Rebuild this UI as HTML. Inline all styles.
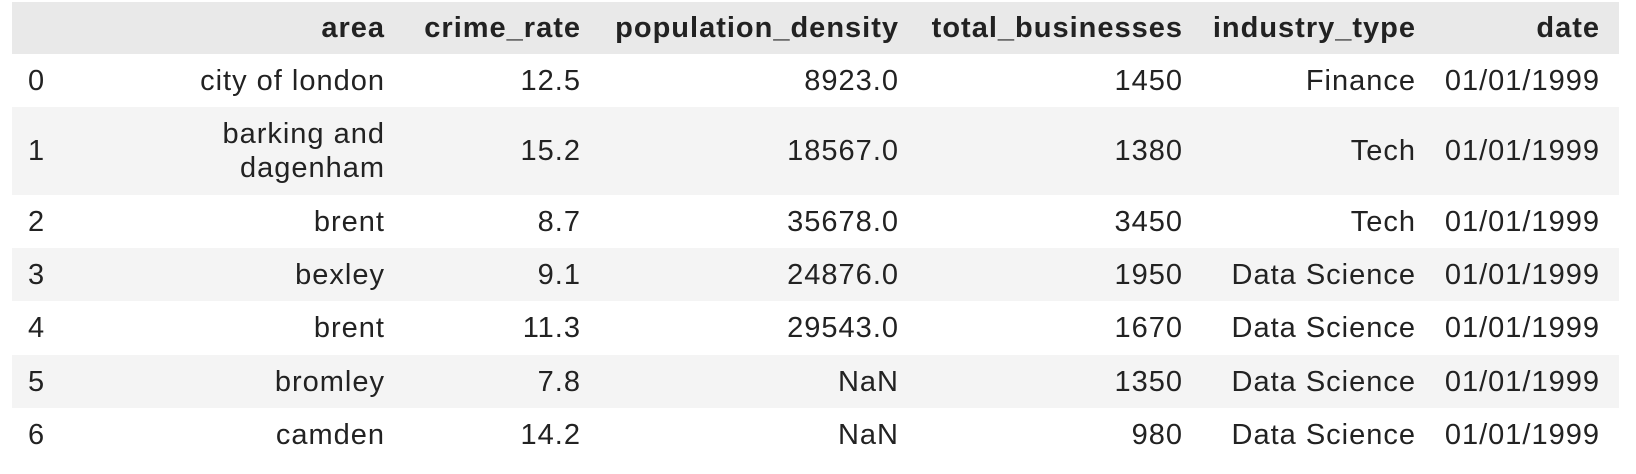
<!DOCTYPE html>
<html><head><meta charset="utf-8"><style>
body{margin:0;width:1636px;height:474px;background:#fff;overflow:hidden;font-family:"Liberation Sans",sans-serif;font-size:29px;color:#222;letter-spacing:1px}
.row{position:absolute;left:12px;width:1607px}
.c{position:absolute;white-space:nowrap;text-align:right;line-height:34px}
.hdr{font-weight:bold}
</style></head><body>
<div id="t"></div>
<script>
const cols=["area","crime_rate","population_density","total_businesses","industry_type","date"];
const rights=[385,581,899,1183,1416,1600];
const areas=["city of london","barking and\ndagenham","brent","bexley","brent","bromley","camden"];
const crime=["12.5","15.2","8.7","9.1","11.3","7.8","14.2"];
const pop=["8923.0","18567.0","35678.0","24876.0","29543.0","NaN","NaN"];
const biz=["1450","1380","3450","1950","1670","1350","980"];
const ind=["Finance","Tech","Tech","Data Science","Data Science","Data Science","Data Science"];
const dates=["01/01/1999","01/01/1999","01/01/1999","01/01/1999","01/01/1999","01/01/1999","01/01/1999"];
const tops=[2,54,107,195,248,301,355,408,461];
const t=document.getElementById('t');
function cell(row,txt,right,h,bold,name){
  const d=document.createElement('div');d.className='c'+(bold?' hdr':'');
  
  
  const lines=txt.split('\n');
  d.innerHTML=lines.join('<br>');
  d.style.right=(1619-right)+'px';
  d.style.top=((h-lines.length*34)/2)+'px';
  row.appendChild(d);
}
for(let r=0;r<8;r++){
  const row=document.createElement('div');row.className='row';
  
  
  const h=tops[r+1]-tops[r];
  row.style.top=tops[r]+'px';row.style.height=h+'px';
  row.style.background=r==0?'#e9e9e9':(r%2==0?'#f4f4f4':'#fff');
  t.appendChild(row);
  if(r==0){cols.forEach((c,i)=>cell(row,c,rights[i],h,true,'header-'+c.replace(/_/g,'-')));}
  else{
    const i=r-1;
    const idx=document.createElement('div');idx.className='c';
    
    
    idx.textContent=i;idx.style.left='16px';idx.style.textAlign='left';idx.style.top=((h-34)/2)+'px';row.appendChild(idx);
    const vals=[areas[i],crime[i],pop[i],biz[i],ind[i],dates[i]];
    vals.forEach((v,k)=>cell(row,v,rights[k],h,false,'cell-'+cols[k].replace(/_/g,'-')));
  }
}
</script>
</body></html>
